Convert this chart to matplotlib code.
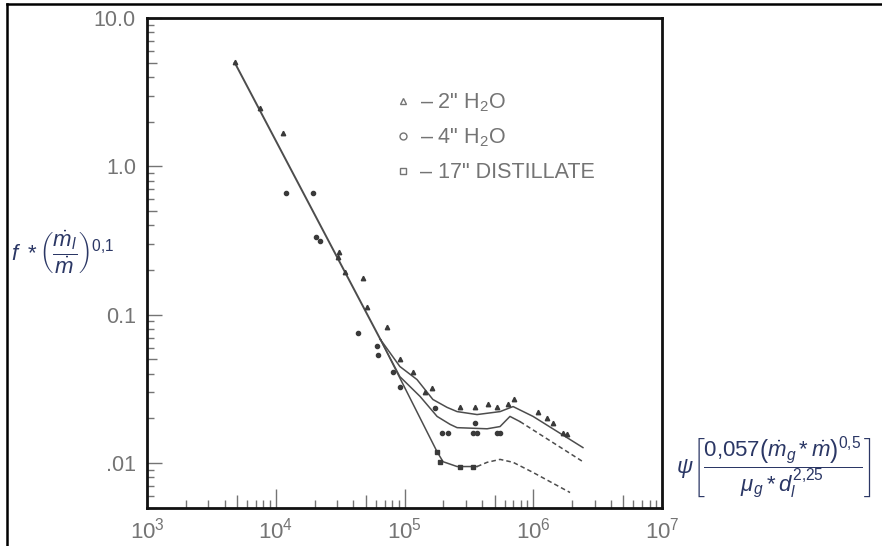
import matplotlib.pyplot as plt
from matplotlib.lines import Line2D
from matplotlib.ticker import LogLocator, FixedLocator, FixedFormatter, NullLocator, NullFormatter

plt.rcParams['mathtext.fontset'] = 'custom'
plt.rcParams['mathtext.rm'] = 'Liberation Sans'
plt.rcParams['mathtext.it'] = 'Liberation Sans:italic'
plt.rcParams['mathtext.sf'] = 'Liberation Sans'

NARROW = ['Liberation Sans', 'DejaVu Sans']

# fitted lines
main_x = [4.8e3, 6.5e4]
main_y = [5.0, 0.068]

top_x = [6.5e4, 9.2e4, 1.25e5, 1.66e5, 2.14e5, 2.56e5, 3.66e5, 5.52e5, 6.97e5, 9.96e5, 2.43e6]
top_y = [0.068, 0.0447, 0.0365, 0.0268, 0.0237, 0.0222, 0.0212, 0.0222, 0.024, 0.0206, 0.0127]

mid_x = [6.5e4, 9.2e4, 1.32e5, 1.79e5, 2.26e5, 2.56e5, 4.38e5, 5.52e5, 6.59e5, 7.89e5]
mid_y = [0.068, 0.0382, 0.0281, 0.0206, 0.0182, 0.0173, 0.0170, 0.0176, 0.0206, 0.019]
mid_dash_x = [7.89e5, 2.43e6]
mid_dash_y = [0.019, 0.0102]

bot_x = [6.5e4, 1.79e5, 1.99e5, 2.56e5, 3.66e5]
bot_y = [0.068, 0.0119, 0.0102, 0.00946, 0.00946]
bot_dash_x = [3.66e5, 4.38e5, 5.52e5, 6.97e5, 9.96e5, 1.93e6]
bot_dash_y = [0.00946, 0.0101, 0.01057, 0.0101, 0.00863, 0.00632]

# measured points
h2o2_x = [4.82e3, 7.55e3, 1.14e4, 3.10e4, 3.05e4, 3.45e4, 4.76e4, 5.12e4, 7.31e4, 9.23e4, 1.16e5,
          1.44e5, 1.64e5, 2.70e5, 3.53e5, 4.46e5, 5.23e5, 6.36e5, 7.08e5, 1.09e6, 1.28e6, 1.42e6,
          1.70e6, 1.83e6]
h2o2_y = [5.06, 2.48, 1.68, 0.265, 0.246, 0.195, 0.178, 0.113, 0.083, 0.0506, 0.0413,
          0.0303, 0.0322, 0.024, 0.024, 0.0248, 0.024, 0.0248, 0.0268, 0.0219, 0.0202, 0.0187,
          0.0160, 0.0156]

h2o4_x = [1.20e4, 1.95e4, 2.06e4, 2.21e4, 4.36e4, 6.11e4, 6.22e4, 8.15e4, 9.23e4, 1.73e5,
          1.95e5, 2.18e5, 3.40e5, 3.66e5, 5.23e5, 5.52e5, 3.53e5]
h2o4_y = [0.664, 0.664, 0.335, 0.315, 0.0757, 0.0618, 0.0538, 0.0413, 0.0327, 0.0236,
          0.0160, 0.0160, 0.016, 0.016, 0.016, 0.016, 0.0185]

dist_x = [1.79e5, 1.89e5, 2.70e5, 3.40e5]
dist_y = [0.0119, 0.0102, 0.00946, 0.00946]

legend_labels = ['\u2013 2" H$_2$O', '\u2013 4" H$_2$O', '\u2013 17" DISTILLATE']

y_ticks = [0.01, 0.1, 1.0, 10.0]
y_tick_labels = ['.01', '0.1', '1.0', '10.0']
x_ticks = [1e3, 1e4, 1e5, 1e6, 1e7]
x_tick_labels = [r'$\mathsf{10^{3}}$', r'$\mathsf{10^{4}}$', r'$\mathsf{10^{5}}$',
                 r'$\mathsf{10^{6}}$', r'$\mathsf{10^{7}}$']

ink = '#4d4d4d'
grey = '#747474'

fig = plt.figure(figsize=(8.82, 5.46), dpi=100)
ax = fig.add_axes([0.1667, 0.0696, 0.5839, 0.8974])
ax.set_xscale('log')
ax.set_yscale('log')
ax.set_xlim(1e3, 1e7)
ax.set_ylim(0.00497, 10.0)

ax.plot(main_x, main_y, color=ink, lw=1.4)
ax.plot(top_x, top_y, color=ink, lw=1.1)
ax.plot(mid_x, mid_y, color=ink, lw=1.1)
ax.plot(mid_dash_x, mid_dash_y, color=ink, lw=1.1, ls=(0, (3, 2)))
ax.plot(bot_x, bot_y, color=ink, lw=1.1)
ax.plot(bot_dash_x, bot_dash_y, color=ink, lw=1.1, ls=(0, (3, 2)))

ax.plot(h2o2_x, h2o2_y, ls='none', marker='^', ms=3.2, color='#3a3a3a')
ax.plot(h2o4_x, h2o4_y, ls='none', marker='o', ms=3.0, color='#3a3a3a')
ax.plot(dist_x, dist_y, ls='none', marker='s', ms=2.8, color='#3a3a3a')

for s in ax.spines.values():
    s.set_linewidth(2.0)
    s.set_color('#111111')

# ticks
ax.xaxis.set_major_locator(FixedLocator(x_ticks))
ax.xaxis.set_major_formatter(FixedFormatter(x_tick_labels))
ax.xaxis.set_minor_locator(LogLocator(base=10, subs=[2, 3, 4, 6, 7, 8, 9]))
ax.xaxis.set_minor_formatter(NullFormatter())
ax.yaxis.set_major_locator(FixedLocator(y_ticks))
ax.yaxis.set_major_formatter(FixedFormatter(y_tick_labels))
ax.yaxis.set_minor_locator(LogLocator(base=10, subs=[2, 3, 4, 6, 7, 8, 9]))
ax.yaxis.set_minor_formatter(NullFormatter())

ax.tick_params(axis='x', which='major', direction='in', length=14, width=1.0, color=grey,
               labelsize=16, labelcolor=grey, pad=6)
ax.tick_params(axis='x', which='minor', direction='in', length=6, width=1.0, color=grey)
ax.tick_params(axis='y', which='major', direction='in', length=11, width=1.0, color=grey,
               labelsize=15.5, labelcolor=grey, pad=8)
ax.tick_params(axis='y', which='minor', direction='in', length=5, width=1.0, color=grey)
for lab in ax.get_yticklabels():
    lab.set_family(NARROW)

# longer ticks at the 5s
sx = ax.secondary_xaxis('bottom')
sx.xaxis.set_major_locator(FixedLocator([5e3, 5e4, 5e5, 5e6]))
sx.xaxis.set_minor_locator(NullLocator())
sx.tick_params(direction='in', length=9.5, width=1.0, color=grey, labelbottom=False)
sx.spines['bottom'].set_visible(False)
sy = ax.secondary_yaxis('left')
sy.yaxis.set_major_locator(FixedLocator([5e-3, 5e-2, 5e-1, 5.0]))
sy.yaxis.set_minor_locator(NullLocator())
sy.tick_params(direction='in', length=7.5, width=1.0, color=grey, labelleft=False)
sy.spines['left'].set_visible(False)

# legend
handles = [Line2D([], [], ls='none', marker=m, ms=5, mfc='white', mec=grey, mew=1.0)
           for m in ['^', 'o', 's']]
leg = ax.legend(handles, legend_labels, loc='upper left', bbox_to_anchor=(0.447, 0.89),
                frameon=False, handlelength=0.6, handletextpad=0.5, labelspacing=0.6,
                prop={'family': NARROW, 'size': 15.5})
for t in leg.get_texts():
    t.set_color(grey)

# axis formulas
navy = '#2b3765'
fig.text(11 / 882, 1 - 252 / 546,
         r'$f\ *\left(\dfrac{\dot{m}_l}{\dot{m}}\right)^{0{,}1}$',
         ha='left', va='center', fontsize=16, color=navy)
fig.text(774 / 882, 1 - 468 / 546,
         r'$\psi\left[\dfrac{0{,}057\left(\dot{m}_g*\dot{m}\right)^{0{,}5}}{\mu_g*d_l^{2{,}25}}\right]$',
         ha='center', va='center', fontsize=16, color=navy)

# page frame
fig.add_artist(Line2D([7 / 882, 7 / 882], [0, 1 - 4 / 546], color='black', lw=1.8))
fig.add_artist(Line2D([7 / 882, 1], [1 - 4 / 546, 1 - 4 / 546], color='black', lw=1.8))

fig.savefig('out.png', dpi=100)
